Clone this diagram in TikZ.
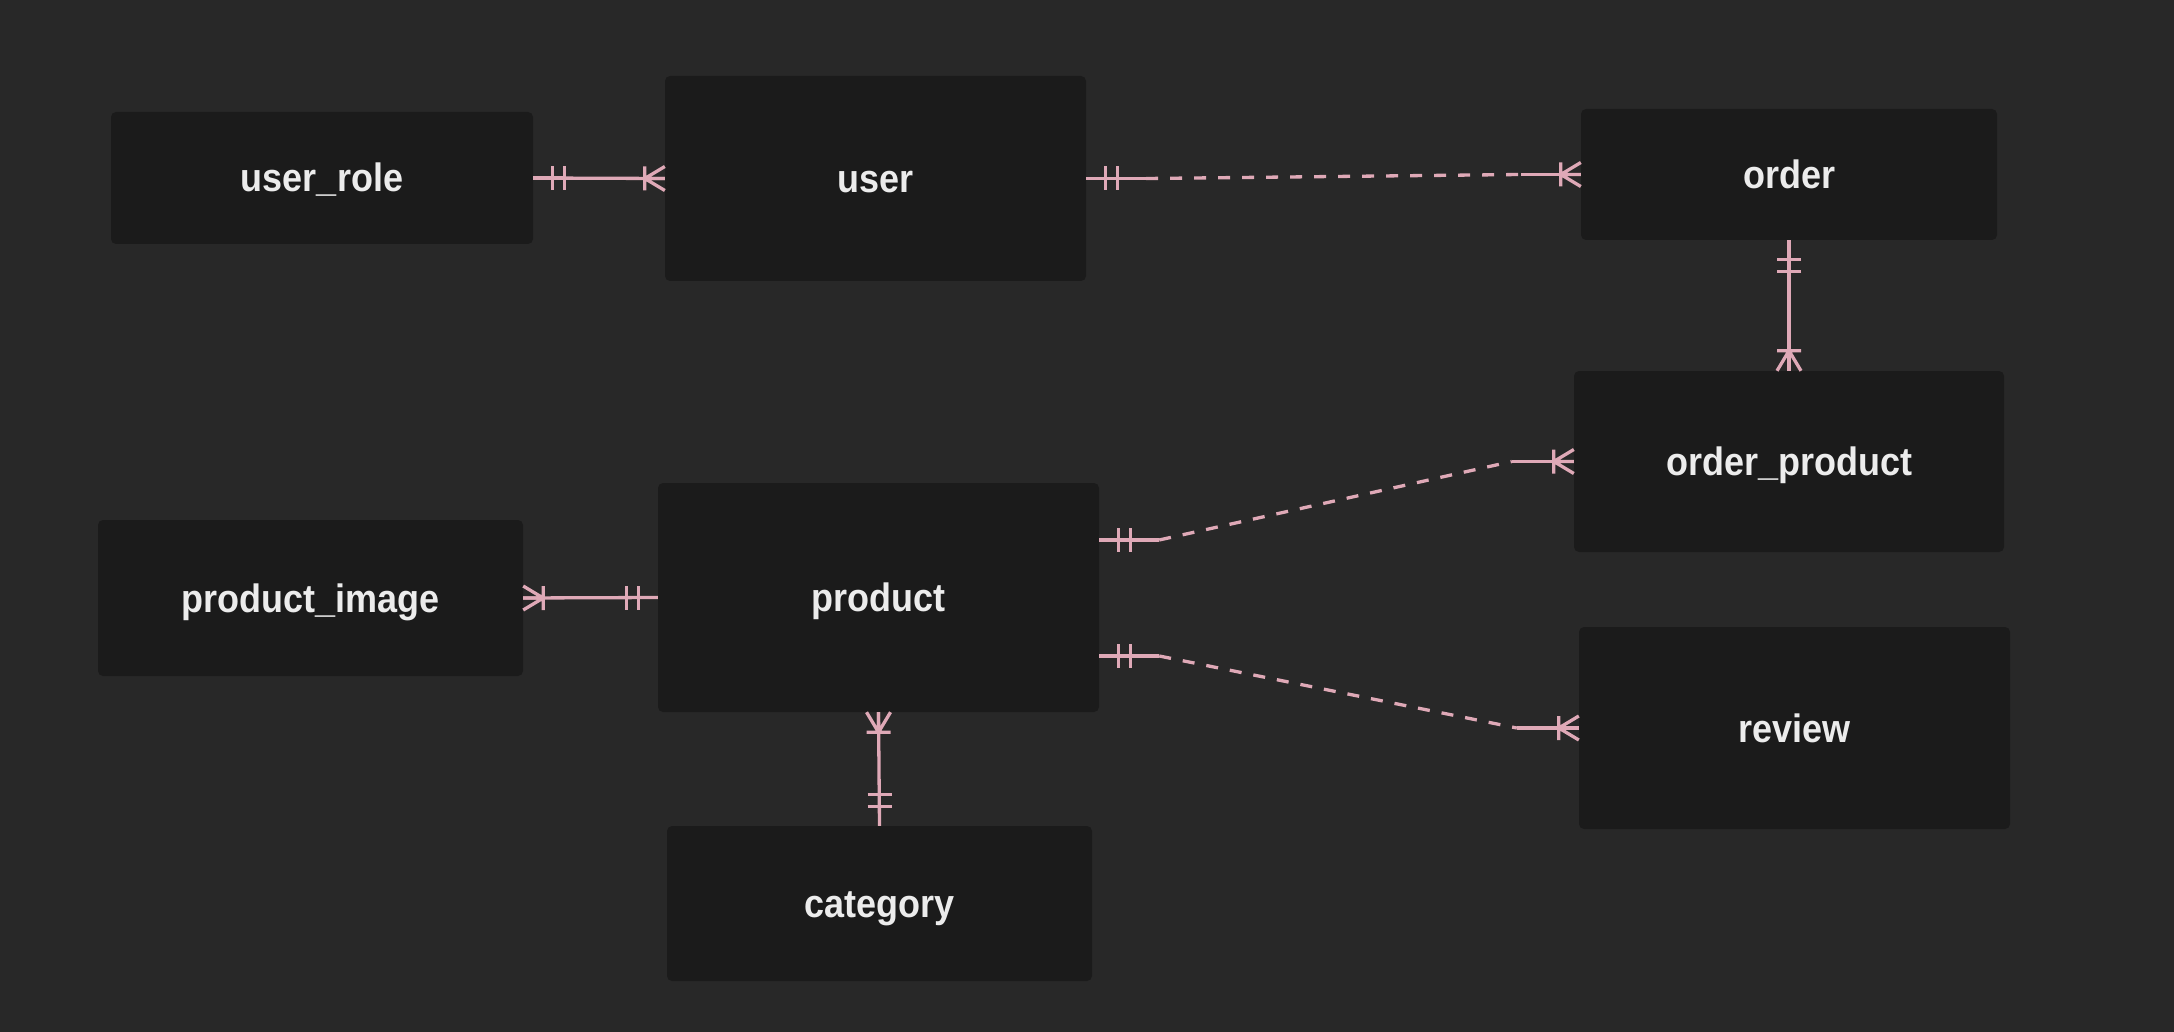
\documentclass[tikz,border=0pt]{standalone}
\usepackage{fontspec}
\setmainfont{Liberation Sans}
\usepackage{graphicx}
\usetikzlibrary{calc}
\definecolor{bg}{RGB}{40,40,40}
\definecolor{boxc}{RGB}{27,27,27}
\definecolor{txtc}{RGB}{236,236,236}
\definecolor{relc}{RGB}{223,169,183}
\newcommand{\entlabel}[1]{\scalebox{1}[1.1]{#1}}
\begin{document}
\begin{tikzpicture}[x=1pt,y=-1pt,
  entity/.style={fill=boxc, rounded corners=5pt, inner sep=0pt, text=txtc,
    font=\fontsize{36}{40}\selectfont\bfseries, text height=28pt, text depth=0pt},
  rel/.style={draw=relc, line width=3.3pt},
  reldash/.style={rel, dash pattern=on 12pt off 12pt},
  crowfoot/.pic={\draw[rel] (0,0) -- (20,0) (20,-12) -- (20,12) (20,0) -- (0,-12) (20,0) -- (0,12);},
  oneone/.pic={\draw[rel] (0,0) -- (31,0) (19,-12) -- (19,12) (31,-12) -- (31,12);},
]
\fill[bg] (0,0) rectangle (2174,1032);
\useasboundingbox (0,0) rectangle (2174,1032);

% entities
\node[entity, minimum width=422pt, minimum height=132pt] (user_role) at (322,178) {\entlabel{user\_role}};
\node[entity, minimum width=421pt, minimum height=205pt] (user) at (875.5,178.5) {\entlabel{user}};
\node[entity, minimum width=416pt, minimum height=131pt] (order) at (1789,174.5) {\entlabel{order}};
\node[entity, minimum width=430pt, minimum height=181pt] (order_product) at (1789,461.5) {\entlabel{order\_product}};
\node[entity, minimum width=425pt, minimum height=156pt] (product_image) at (310.5,598) {\entlabel{product\_image}};
\node[entity, minimum width=441pt, minimum height=229pt] (product) at (878.5,597.5) {\entlabel{product}};
\node[entity, minimum width=431pt, minimum height=202pt] (review) at (1794.5,728) {\entlabel{review}};
\node[entity, minimum width=425pt, minimum height=155pt] (category) at (879.5,903.5) {\entlabel{category}};

% user_role -- user
\draw[rel] (user_role.east) -- (user.west);
\pic at (user_role.east) {oneone};
\pic[rotate=180] at (user.west) {crowfoot};

% user -- order (dashed)
\draw[rel] (user.east) -- ++(60,0) coordinate (uo1);
\draw[rel] (order.west) -- ++(-60,0) coordinate (uo2);
\draw[reldash] (uo1) -- (uo2);
\pic at (user.east) {oneone};
\pic[rotate=180] at (order.west) {crowfoot};

% order -- order_product
\draw[rel] (order.south) -- (order_product.north);
\pic[rotate=-90] at (order.south) {oneone};
\pic[rotate=90] at (order_product.north) {crowfoot};

% product -- order_product (dashed)
\coordinate (po0) at ($(product.east)+(0,-57.5)$);
\draw[rel] (po0) -- ++(60,0) coordinate (po1);
\draw[rel] (order_product.west) -- ++(-62,0) coordinate (po2);
\draw[reldash] (po1) -- (po2);
\pic at (po0) {oneone};
\pic[rotate=180] at (order_product.west) {crowfoot};

% product -- review (dashed)
\coordinate (pr0) at ($(product.east)+(0,58.5)$);
\draw[rel] (pr0) -- ++(60,0) coordinate (pr1);
\draw[rel] (review.west) -- ++(-62,0) coordinate (pr2);
\draw[reldash] (pr1) -- (pr2);
\pic at (pr0) {oneone};
\pic[rotate=180] at (review.west) {crowfoot};

% product -- product_image
\draw[rel] (product.west) -- (product_image.east);
\pic[rotate=180] at (product.west) {oneone};
\pic at (product_image.east) {crowfoot};

% product -- category
\draw[rel] (product.south) -- (category.north);
\pic[rotate=-90] at (product.south) {crowfoot};
\pic[rotate=90] at (category.north) {oneone};
\end{tikzpicture}
\end{document}
